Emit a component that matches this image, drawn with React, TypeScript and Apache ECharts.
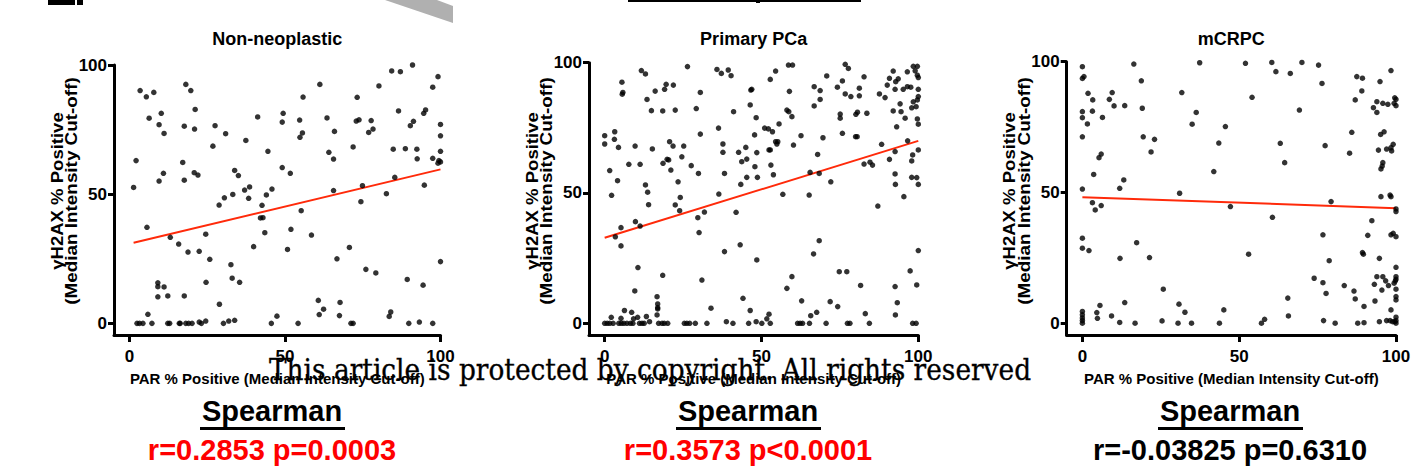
import React, { useEffect, useRef } from "react";
import * as echarts from "echarts";

// ---------- DATA ----------
const panelTitles = ["Non-neoplastic", "Primary PCa", "mCRPC"];
const tickValues = [0, 50, 100];
const xAxisName = "PAR % Positive (Median Intensity Cut-off)";
const yAxisLine1 = "γH2AX % Positive";
const yAxisLine2 = "(Median Intensity Cut-off)";
const spearmanHeading = "Spearman";
const spearmanStats = ["r=0.2853 p=0.0003", "r=0.3573 p<0.0001", "r=-0.03825 p=0.6310"];
const spearmanColors = ["#ff0000", "#ff0000", "#000000"];
const watermarkText = "This article is protected by copyright. All rights reserved";

const nonNeoplastic: number[][] = [
  [3.4, 90.1], [5.4, 87.7], [7.8, 89.4], [18.1, 92.5], [19.7, 90.1], [21.1, 82.8], [10.2, 81.3], [6.3, 79.4],
  [9.5, 76.9], [11.1, 73.5], [17.6, 76.3], [20.9, 75.2], [27.5, 76.5], [30.9, 73.4], [26.8, 68.6], [37.4, 70.8],
  [41.2, 79.9], [44.5, 66.6], [49.1, 77.9], [49.4, 81.3], [54.7, 78.7], [54.8, 72.0], [55.6, 73.7], [55.8, 87.6],
  [61.2, 92.5], [63.5, 79.5], [64.1, 66.2], [65.6, 63.6], [65.9, 74.3], [73.2, 87.5], [71.9, 68.3], [72.9, 78.3],
  [73.8, 78.8], [76.9, 73.9], [77.7, 78.5], [78.3, 75.2], [80.2, 91.9], [84.3, 97.7], [87.1, 97.4], [91.0, 100],
  [86.5, 82.2], [84.8, 67.4], [88.7, 67.6], [90.3, 76.5], [91.3, 78.2], [94.6, 81.3], [95.2, 82.6], [92.4, 67.4],
  [92.5, 63.7], [97.5, 91.4], [99.2, 95.5], [100, 77.0], [100, 72.6], [100, 66.6], [97.5, 63.9], [99.5, 63.0],
  [100, 62.5], [99.2, 62.0],
  [2.1, 63.0], [1.3, 52.6], [9.5, 55.1], [10.9, 58.1], [17.1, 62.3], [17.6, 55.4], [20.8, 58.3], [22.0, 57.4],
  [33.8, 59.2], [35.0, 57.2], [37.0, 51.6], [38.6, 52.8], [38.3, 48.4], [33.2, 49.9], [30.5, 48.6], [28.8, 45.8],
  [44.0, 49.7], [45.8, 52.0], [42.6, 45.7], [42.1, 40.8], [42.9, 40.9], [49.1, 60.3], [51.7, 58.1], [55.2, 43.6],
  [51.9, 36.4], [43.5, 35.1], [39.9, 29.7], [58.5, 34.2], [50.8, 28.6], [65.6, 51.4], [74.4, 47.1], [74.9, 53.3],
  [82.6, 50.2], [85.3, 56.5], [94.8, 53.5], [5.6, 37.2], [13.1, 33.3], [15.8, 30.7], [18.8, 27.6], [22.4, 27.9],
  [24.5, 34.5], [25.8, 24.8], [66.7, 25.0], [70.7, 29.4], [76.0, 20.9], [79.2, 19.5], [100, 23.9],
  [32.6, 22.7], [33.0, 17.5], [35.4, 15.9], [24.6, 15.9], [9.1, 15.7], [9.1, 14.2], [11.1, 14.1], [9.1, 10.3],
  [12.3, 10.6], [17.6, 10.6], [28.9, 7.4], [89.3, 17.0], [94.4, 14.8], [60.7, 8.9], [62.4, 5.5], [61.0, 3.4],
  [67.7, 8.1], [67.5, 3.0], [84.0, 4.4], [83.5, 2.7], [47.4, 2.8], [5.9, 3.5],
  [2.4, 0], [3.2, 0], [4.3, 0], [7.2, 0], [12.3, 0], [12.9, 0], [16.0, 0], [16.3, 0], [18.1, 0], [19.0, 0],
  [20.1, 0], [22.4, 0.5], [23.1, 0], [24.5, 0.9], [30.2, 0], [31.9, 0.9], [33.8, 1.2], [45.6, 0], [54.2, 0],
  [71.2, 0], [71.9, 0], [89.8, 0], [93.2, 0.5], [97.5, 0],
];

const primaryPCa: number[][] = [
  [26.4, 98.5], [11.7, 97.0], [13.0, 95.7], [35.8, 97.4], [37.2, 95.9], [39.4, 97.2], [40.3, 95.0], [54.5, 96.8],
  [52.8, 93.6], [58.6, 99.1], [59.9, 99.1], [70.8, 94.9], [5.5, 92.5], [16.1, 89.1], [19.1, 89.8], [19.6, 91.7],
  [21.9, 91.4], [5.8, 88.6], [5.6, 87.9], [30.5, 88.6], [13.5, 85.9], [46.6, 89.5], [46.9, 89.8], [58.9, 89.0],
  [66.8, 90.8], [68.7, 89.3], [68.7, 85.9], [66.8, 83.4], [18.5, 81.5], [14.9, 81.6], [22.5, 81.8], [29.2, 82.4],
  [41.1, 81.2], [46.4, 83.8], [48.3, 78.9], [58.1, 81.8], [58.7, 81.2], [59.7, 79.3], [55.6, 76.5], [51.0, 74.9],
  [52.2, 74.6], [53.5, 73.5], [36.3, 74.9], [0, 72.0], [0, 68.8], [3.2, 73.5], [3.1, 70.6], [4.4, 67.5],
  [30.5, 72.6], [9.7, 68.0], [15.2, 66.9], [20.7, 69.7], [21.8, 68.0], [25.2, 68.0], [37.7, 68.8], [37.7, 65.6],
  [42.7, 65.6], [45.0, 67.5], [47.8, 72.3], [48.5, 65.5], [52.4, 66.5], [52.8, 66.5], [54.5, 69.7], [54.9, 68.8],
  [55.2, 69.7], [60.2, 68.4], [62.6, 72.0], [69.6, 71.2], [67.9, 64.8], [1.6, 58.6], [2.2, 49.1], [4.1, 54.7],
  [7.7, 61.0], [11.3, 61.0], [13.0, 53.1], [13.7, 50.3], [14.0, 45.5], [18.6, 61.4], [19.9, 62.9], [20.4, 62.7],
  [21.1, 58.8], [23.4, 54.3], [24.1, 48.3], [22.5, 45.4], [23.9, 43.2], [24.6, 63.9], [27.6, 60.5], [29.9, 57.5],
  [38.2, 57.5], [43.7, 62.0], [45.3, 63.0], [45.3, 56.0], [43.4, 53.3], [47.9, 60.1], [48.7, 56.0], [53.0, 60.7],
  [53.8, 57.0], [56.8, 49.5], [65.5, 57.9], [65.2, 49.2], [68.4, 57.5], [36.4, 49.6], [41.9, 42.6], [29.7, 40.5],
  [31.8, 42.7], [30.1, 34.8], [9.8, 39.0], [11.3, 37.3], [5.2, 36.7], [3.4, 33.2], [5.2, 29.7], [43.2, 30.1],
  [38.2, 27.5], [48.5, 24.3], [66.6, 26.6], [68.4, 31.7], [10.6, 21.4], [18.5, 18.4], [31.0, 16.6], [59.7, 17.9],
  [76.7, 99.4], [77.7, 97.8], [75.8, 93.0], [74.2, 90.6], [82.7, 94.6], [81.2, 90.2], [81.2, 87.3], [76.7, 88.0],
  [78.5, 87.0], [75.1, 80.3], [75.1, 78.7], [80.1, 80.2], [80.6, 81.0], [83.6, 80.6], [75.8, 72.9], [80.0, 71.6],
  [80.5, 71.6], [92.0, 96.8], [90.8, 94.0], [90.1, 91.4], [92.8, 92.7], [93.6, 93.8], [89.4, 86.6], [87.6, 88.0],
  [92.6, 89.8], [95.2, 89.8], [96.5, 90.8], [97.6, 90.6], [96.5, 96.5], [98.4, 98.6], [99.7, 98.6], [99.0, 96.9],
  [99.7, 95.2], [100, 94.3], [100, 89.8], [100, 87.0], [99.7, 85.7], [98.4, 85.0], [99.3, 83.1], [97.9, 82.7],
  [94.2, 84.2], [92.0, 81.5], [94.5, 81.2], [95.8, 78.7], [99.7, 78.4], [100, 76.4], [93.1, 75.4], [88.3, 68.7],
  [96.6, 70.0], [92.6, 65.9], [100, 66.5], [98.2, 64.6], [97.9, 62.3], [90.8, 62.9], [82.7, 61.1], [84.6, 61.8],
  [85.4, 60.7], [72.1, 54.3], [92.6, 57.3], [92.7, 53.3], [97.9, 56.0], [99.5, 55.9], [100, 53.3], [95.4, 48.6],
  [87.1, 45.0], [100, 27.9], [74.8, 19.8], [77.2, 19.8], [97.4, 20.1],
  [0, 0], [0.8, 0], [1.6, 0], [2.7, 0], [4.5, 0], [5.3, 0], [6.1, 0], [7.1, 0], [8.2, 0], [9.0, 0], [11.1, 0],
  [11.9, 0], [12.6, 0], [17.2, 0], [18.3, 0], [19.0, 0], [20.1, 0], [25.4, 0], [26.2, 0], [27.1, 0], [28.9, 0],
  [32.6, 0], [40.9, 0], [45.9, 0], [50.1, 0], [52.8, 0], [61.5, 0], [62.3, 0], [63.1, 0], [65.3, 0], [70.6, 0],
  [77.4, 0], [78.2, 0], [84.4, 0], [98.2, 0], [99.3, 0], [14.3, 0.6], [38.8, 0.6], [48.3, 0.6],
  [2.1, 2.3], [6.3, 4.9], [5.2, 1.9], [8.6, 4.2], [9.6, 12.4], [10.5, 2.3], [9.2, 1.7], [13.3, 2.6], [16.7, 10.2],
  [16.9, 7.4], [16.9, 6.0], [16.9, 5.5], [16.7, 3.2], [33.9, 5.8], [44.1, 9.6], [46.4, 4.9], [52.4, 3.5],
  [51.7, 1.7], [58.1, 13.4], [62.8, 8.6], [65.7, 2.9], [67.6, 4.2], [71.9, 8.3], [74.3, 6.4], [83.1, 3.7],
  [92.6, 14.1], [93.3, 7.9], [92.7, 3.2], [81.6, 14.5], [99.5, 14.7],
];

const mCRPC: number[][] = [
  [0, 98.1], [0, 93.6], [0.5, 94.3], [0, 80.9], [0, 78.6], [0, 71.3], [0, 51.3], [0, 32.5], [0, 28.7],
  [0, 4.5], [0, 3.2], [0, 2.0], [0, 1.0], [0, 0], [1.8, 87.9], [3.3, 85.4], [3.2, 81.1], [1.6, 76.2], [6.4, 78.7],
  [2.1, 27.8], [3.6, 56.9], [3.2, 46.1], [4.1, 43.3], [6.0, 45.0], [5.3, 63.3], [6.0, 64.7], [4.6, 4.1], [4.8, 1.9],
  [5.6, 6.8], [8.6, 85.6], [9.5, 88.2], [10.1, 83.1], [13.5, 83.2], [9.3, 2.8], [11.9, 51.6], [13.2, 54.8],
  [12.0, 24.8], [13.5, 7.9], [11.9, 0.3], [16.4, 99.1], [18.8, 92.7], [19.1, 82.2], [19.4, 71.3], [23.0, 70.3],
  [21.9, 65.5], [17.3, 30.8], [21.4, 25.1], [16.8, 0], [25.8, 13.0], [25.4, 0.9], [31.0, 49.7], [31.7, 88.2],
  [30.8, 7.3], [32.7, 4.2], [30.5, 0], [34.8, 0], [35.0, 76.1], [36.3, 80.6], [37.4, 99.6], [41.9, 58.0],
  [43.5, 68.9], [45.6, 75.2], [47.2, 44.6], [45.1, 5.1], [43.7, 0], [52.0, 99.4], [54.1, 86.4], [53.0, 26.4],
  [60.4, 99.7], [61.7, 96.2], [60.6, 40.5], [63.1, 68.8], [64.5, 61.4], [66.3, 95.5], [65.5, 9.6], [65.7, 2.8],
  [57.1, 0], [58.1, 1.5], [70.0, 99.7], [69.2, 81.5],
  [75.3, 98.7], [76.4, 91.7], [87.5, 94.3], [89.3, 93.7], [98.4, 96.6], [94.9, 92.4], [89.1, 88.8], [87.0, 85.4],
  [92.8, 82.4], [93.9, 80.6], [93.9, 84.7], [95.8, 84.1], [97.4, 83.7], [99.6, 86.2], [100, 85.6], [99.4, 84.1],
  [100, 83.2], [85.9, 73.0], [77.4, 67.9], [85.2, 65.0], [96.2, 73.2], [95.1, 72.2], [94.4, 66.2], [97.0, 66.6],
  [98.4, 67.1], [99.1, 68.4], [98.6, 65.9], [95.8, 61.4], [95.6, 60.1], [95.2, 59.0], [79.3, 46.5], [95.2, 48.4],
  [98.1, 49.0], [98.4, 48.4], [100, 43.7], [100, 42.7], [92.3, 39.2], [76.7, 33.8], [91.0, 33.6], [98.4, 33.8],
  [99.1, 34.4], [100, 33.1], [89.3, 27.0], [89.6, 26.4], [94.7, 24.8], [78.7, 23.9], [100, 21.4], [73.9, 17.2],
  [76.7, 15.5], [77.7, 11.4], [83.5, 14.4], [86.6, 12.3], [87.0, 9.3], [89.8, 6.4], [93.1, 14.9], [93.9, 17.8],
  [95.5, 12.7], [95.8, 17.8], [96.7, 16.2], [97.6, 14.4], [93.3, 8.5], [100, 17.8], [100, 16.8], [99.4, 15.3],
  [99.8, 16.2], [100, 13.0], [100, 10.2], [100, 8.9], [98.4, 5.1], [76.9, 1.0], [80.6, 0], [87.8, 0], [89.8, 0.2],
  [94.7, 0.6], [97.0, 1.0], [98.1, 1.0], [98.9, 0.6], [100, 2.3], [100, 1.0], [100, 0], [99.6, 0.6],
];

// regression lines (end points)
const fitNonNeoplastic: number[][] = [[1.3, 31.2], [100, 59.6]];
const fitPrimaryPCa: number[][] = [[0, 32.8], [100, 70.0]];
const fitMCRPC: number[][] = [[0, 48.2], [100, 44.0]];

const panelPoints = [nonNeoplastic, primaryPCa, mCRPC];
const panelFits = [fitNonNeoplastic, fitPrimaryPCa, fitMCRPC];

// ---------- LAYOUT ----------
const FONT = "'Liberation Sans', Arial, Helvetica, sans-serif";
const layout = [
  { left: 114, top: 65, width: 326.5, height: 270, yMin: -4.5, statX: 272 },
  { left: 589, top: 62.7, width: 329.3, height: 272.3, yMin: -4.5, statX: 748 },
  { left: 1066.7, top: 61.7, width: 329.3, height: 273.3, yMin: -4.5, statX: 1230 },
];

function buildOption(): any {
  const grid = layout.map((l) => ({ left: l.left, top: l.top, width: l.width, height: l.height }));
  const xAxis = layout.map((l, i) => ({
    gridIndex: i,
    type: "value",
    min: -5,
    max: 100,
    axisLine: { onZero: false, lineStyle: { color: "#000", width: 3 } },
    axisTick: { show: true, length: 7, customValues: tickValues, lineStyle: { color: "#000", width: 3 } },
    axisLabel: {
      customValues: tickValues, margin: 13, color: "#000", fontSize: 17, fontWeight: "bold", fontFamily: FONT,
    },
    splitLine: { show: false },
    name: xAxisName,
    nameLocation: "middle",
    nameGap: 36,
    nameTextStyle: { color: "#000", fontSize: 15, fontWeight: "bold", fontFamily: FONT, verticalAlign: "top" },
  }));
  const yAxis = layout.map((l, i) => ({
    gridIndex: i,
    type: "value",
    min: l.yMin,
    max: 100,
    axisLine: { show: true, onZero: false, lineStyle: { color: "#000", width: 3 } },
    axisTick: { show: true, length: 6, customValues: tickValues, lineStyle: { color: "#000", width: 3 } },
    axisLabel: {
      customValues: tickValues, margin: 7, color: "#000", fontSize: 17, fontWeight: "bold", fontFamily: FONT,
    },
    splitLine: { show: false },
  }));
  const series: any[] = [];
  panelPoints.forEach((pts, i) => {
    series.push({
      type: "line",
      xAxisIndex: i,
      yAxisIndex: i,
      data: panelFits[i],
      showSymbol: false,
      lineStyle: { color: "#ff2a0a", width: 2 },
      silent: true,
      z: 2,
    });
    series.push({
      type: "scatter",
      xAxisIndex: i,
      yAxisIndex: i,
      data: pts,
      symbol: "circle",
      symbolSize: 5.5,
      itemStyle: { color: "#000" },
      silent: true,
      z: 3,
    });
  });

  const graphics: any[] = [];
  layout.forEach((l, i) => {
    const cx = l.left + l.width / 2;
    graphics.push({
      type: "text", x: cx, y: 39,
      style: { text: panelTitles[i], font: `bold 18px ${FONT}`, fill: "#000", textAlign: "center", textVerticalAlign: "middle" },
    });
    const cy = 191;
    graphics.push({
      type: "text", x: l.left - 57, y: cy, rotation: Math.PI / 2, scaleX: 1.09,
      style: { text: yAxisLine1, font: `bold 17px ${FONT}`, fill: "#000", textAlign: "center", textVerticalAlign: "middle" },
    });
    graphics.push({
      type: "text", x: l.left - 42, y: cy, rotation: Math.PI / 2, scaleX: 1.18,
      style: { text: yAxisLine2, font: `bold 16px ${FONT}`, fill: "#000", textAlign: "center", textVerticalAlign: "middle" },
    });
    graphics.push({
      type: "text", x: l.statX, y: 411,
      style: { text: spearmanHeading, font: `bold 29px ${FONT}`, fill: "#000", textAlign: "center", textVerticalAlign: "middle" },
    });
    graphics.push({
      type: "rect", shape: { x: l.statX - 72, y: 427, width: 145, height: 3 }, style: { fill: "#000" },
    });
    graphics.push({
      type: "text", x: l.statX, y: 450,
      style: { text: spearmanStats[i], font: `bold 29px ${FONT}`, fill: spearmanColors[i], textAlign: "center", textVerticalAlign: "middle" },
    });
  });
  // cropped fragments along the top edge
  graphics.push({ type: "rect", shape: { x: 48, y: 0, width: 27, height: 5 }, style: { fill: "#000" } });
  graphics.push({ type: "rect", shape: { x: 77, y: 0, width: 6, height: 5 }, style: { fill: "#000" } });
  graphics.push({
    type: "polygon", shape: { points: [[385, 0], [437, 0], [453, 6], [453, 23]] }, style: { fill: "#b0b0b0" },
  });
  graphics.push({ type: "rect", shape: { x: 628, y: 0, width: 233, height: 2 }, style: { fill: "#000" } });
  graphics.push({ type: "rect", shape: { x: 756, y: 0, width: 4, height: 3 }, style: { fill: "#000" } });
  // watermark
  graphics.push({
    type: "text", x: 650, y: 370, z: 100, scaleY: 1.15,
    style: {
      text: watermarkText, font: `26.4px 'DejaVu Serif', serif`, fill: "#000",
      stroke: "#000", lineWidth: 0.3, textAlign: "center", textVerticalAlign: "middle",
    },
  });

  return {
    animation: false,
    backgroundColor: "#fff",
    grid,
    xAxis,
    yAxis,
    series,
    graphic: graphics,
  };
}

export default function App() {
  const ref = useRef<HTMLDivElement>(null);
  useEffect(() => {
    document.body.style.margin = "0";
    if (!ref.current) return;
    const chart = echarts.init(ref.current, undefined, { renderer: "svg" });
    chart.setOption(buildOption());
    return () => chart.dispose();
  }, []);
  return <div ref={ref} style={{ width: 1418, height: 475 }} />;
}
